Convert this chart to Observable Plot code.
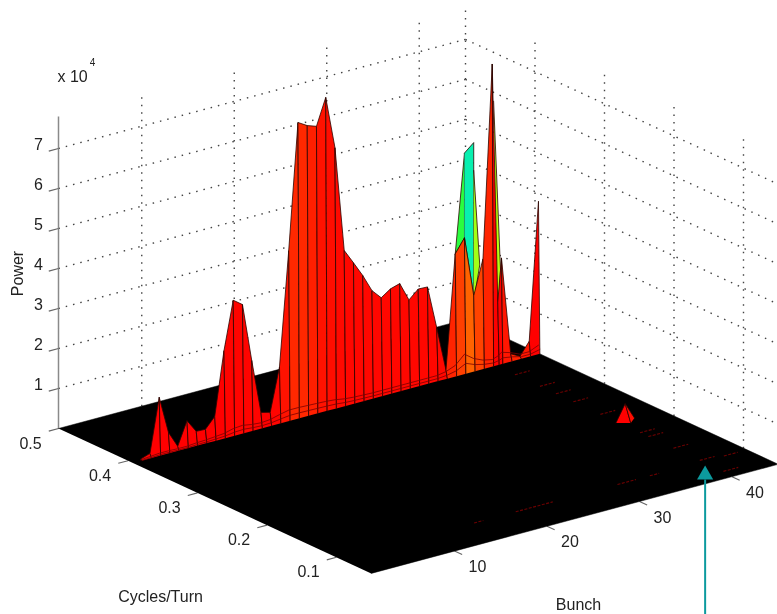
<!DOCTYPE html>
<html>
<head>
<meta charset="utf-8">
<script src="https://cdn.jsdelivr.net/npm/d3@7"></script>
<script src="https://cdn.jsdelivr.net/npm/@observablehq/plot@0.6"></script>
<style>
html,body{margin:0;padding:0;background:#fff}
#chart svg{display:block;filter:blur(0.45px)}
</style>
</head>
<body>
<div id="chart"></div>
<script>
// ---- data ----
// ridge vertices along the bunch axis
const bunches = [2,3,4,5,6,7,8,9,10,11,12,13,14,15,16,17,18,19,20,21,22,23,24,25,26,27,28,29,30,31,32,33,34,35,36,37,38,39,40,40.6,41,42,43,44,45];
// ridge power (x 10^4)
const ridgePower = [0.02,0.1,1.44,0.5,0.09,0.67,0.34,0.33,0.59,2.17,3.37,3.2,1.74,0.38,0.32,1.39,4.24,7.38,7.24,7.16,7.82,6.5,3.87,3.5,3.12,2.68,2.44,2.6,2.67,2.2,2.41,2.4,1.32,0.2,3.04,3.38,1.87,2.73,7.54,1.55,2.63,0.17,0.05,0.36,3.8];
// heat of the strip starting at each vertex (last one unused)
const ridgeHeat = [0,0,0,0,0,0,0,0,0,0.01,0.01,0.01,0.01,0,0.01,0.04,0.09,0.09,0.07,0.04,0.03,0.02,0.015,0.015,0.015,0.015,0.015,0.015,0.015,0.015,0.015,0.015,0.015,0.08,0.14,0.22,0.15,0.08,0,0,0.05,0.08,0.05,0,0];
// small skirt along the ridge base (x 10^4)
const skirtPower = [0,0.02,0.04,0.04,0.03,0.03,0.05,0.06,0.08,0.1,0.16,0.18,0.14,0.12,0.14,0.2,0.25,0.25,0.24,0.23,0.22,0.2,0.16,0.14,0.13,0.12,0.12,0.12,0.12,0.12,0.12,0.12,0.12,0.16,0.25,0.47,0.3,0.2,0.15,0.2,0.27,0.2,0.1,0.1,0.2];
// faces behind the ridge: bunch, power
const greenBunch = [36,37,37,36], greenPower = [3.04,5.5,3.38,3.04];
const cyanBunch  = [37,38,38,37], cyanPower  = [5.5,5.7,1.87,3.38];
const limeBunch  = [38,38.65,38.1,38], limePower = [5.0,2.6,1.85,1.87];
const lime2Bunch = [40.15,40.9,40.68,40.46], lime2Power = [6.6,2.32,1.41,1.85];
// floor streaks
const streakFreqAt41 = [0.365,0.329,0.306,0.281,0.242,0.185,0.173,0.137,0.099,0.065];
const streakRowFreq = 0.095;
const streakRowStart = [15.5,20,31,34.5,42.5];
const streakRowEnd   = [16.5,24,33,35.5,44];
// small bump on the floor
const bumpBunch = 41, bumpFreq = 0.217, bumpPower = 0.42;
// axes
const bunchTicks = [10,20,30,40];
const freqTicks = [0.1,0.2,0.3,0.4,0.5];
const powerTicks = [1,2,3,4,5,6,7];
const bunchMin = 1, bunchMax = 45, freqMin = 0.05, freqMax = 0.5, powerMax = 7.8;
const ridgeFront = 0.393, ridgeTop = 0.395;
// annotation arrow
const arrowBunch = 39.8, arrowFreq = 0.086, arrowFoot = -3.8;

// ---- oblique projection of (bunch, frequency, power) onto the page ----
const W = 777, H = 614;
const X = (b, f) => 58 + (b - 1) * 9.25 + (0.5 - f) * 695;
const Y = (b, f, z = 0) => 428 - (b - 1) * 2.48 + (0.5 - f) * 322 - z * 40;
const px = d => X(d.b, d.f);
const py = d => Y(d.b, d.f, d.z);
const pt = (b, f, z = 0) => ({b, f, z});

// faces (polygons), painted back to front
const faces = [];
let faceId = 0;
const addFace = (pts, heat) => { const id = faceId++; pts.forEach(p => faces.push({...p, id, heat})); };
const backFace = (bs, ps, heat) => addFace(bs.map((b, i) => pt(b, ridgeTop, ps[i])), heat);

backFace(greenBunch, greenPower, 0.78);
backFace(cyanBunch, cyanPower, 1);
backFace(limeBunch, limePower, 0.55);
backFace(lime2Bunch, lime2Power, 0.52);
bunches.slice(0, -1).forEach((b, i) => {
  const c = bunches[i + 1];
  addFace([pt(b, ridgeFront), pt(b, ridgeTop, ridgePower[i]), pt(c, ridgeTop, ridgePower[i + 1]), pt(c, ridgeFront)], ridgeHeat[i]);
});
addFace([pt(bumpBunch - 1, bumpFreq), pt(bumpBunch, bumpFreq, bumpPower), pt(bumpBunch, bumpFreq - 0.008)], 0);
addFace([pt(bumpBunch + 1, bumpFreq), pt(bumpBunch, bumpFreq, bumpPower), pt(bumpBunch, bumpFreq - 0.008)], 0.03);

const floor = [pt(bunchMin, freqMax), pt(bunchMax, freqMax), pt(bunchMax, freqMin), pt(bunchMin, freqMin)];
const skirt = bunches.map((b, i) => pt(b, ridgeTop, skirtPower[i]));
const skirt2 = bunches.map((b, i) => pt(b, ridgeFront, skirtPower[i] * 0.55));

const seg = (a, c) => ({x1: px(a), y1: py(a), x2: px(c), y2: py(c)});
const wallGrid = [
  ...powerTicks.map(z => seg(pt(bunchMin, freqMax, z), pt(bunchMax, freqMax, z))),
  ...powerTicks.map(z => seg(pt(bunchMax, freqMax, z), pt(bunchMax, freqMin, z))),
  ...bunchTicks.map(b => seg(pt(b, freqMax), pt(b, freqMax, powerMax))),
  seg(pt(bunchMax, freqMax), pt(bunchMax, freqMax, powerMax)),
  ...freqTicks.slice(0, 4).map(f => seg(pt(bunchMax, f), pt(bunchMax, f, powerMax)))
];
const streaks = [
  ...streakFreqAt41.map(f => seg(pt(40.2, f), pt(41.8, f))),
  ...streakRowStart.map((s, i) => seg(pt(s, streakRowFreq), pt(streakRowEnd[i], streakRowFreq)))
];
const ticks = [
  ...powerTicks.map(z => seg(pt(bunchMin, freqMax, z), pt(bunchMin - 1.05, freqMax, z))),
  ...freqTicks.map(f => seg(pt(bunchMin, f), pt(bunchMin - 1.05, f))),
  ...bunchTicks.map(b => seg(pt(b, freqMin), pt(b, freqMin - 0.011)))
];
const labels = [
  ...powerTicks.map(z => ({t: String(z), x: 38, y: Y(bunchMin, freqMax, z) - 4})),
  ...freqTicks.map(f => ({t: f.toFixed(1), x: X(bunchMin, f) - 28, y: Y(bunchMin, f) + 15})),
  ...bunchTicks.map(b => ({t: String(b), x: X(b, freqMin) + 23, y: Y(b, freqMin) + 16}))
];
const textColor = "#222", font = "Liberation Sans, Arial, sans-serif", fs = 16;

const plot = Plot.plot({
  width: W, height: H,
  margin: 0,
  x: {domain: [0, W], range: [0, W], axis: null},
  y: {domain: [0, H], range: [0, H], axis: null},
  color: {type: "linear", domain: [0, 0.25, 0.5, 0.75, 1], range: ["#ff0000", "#ff7000", "#c0ff10", "#30ff30", "#08f0b0"], interpolate: "rgb"},
  style: {background: "#fff", fontFamily: font},
  marks: [
    Plot.link(wallGrid, {x1: "x1", y1: "y1", x2: "x2", y2: "y2", stroke: "#444", strokeWidth: 1.4, strokeDasharray: "1.5 6"}),
    Plot.link([seg(pt(bunchMin, freqMax), pt(bunchMin, freqMax, powerMax))], {x1: "x1", y1: "y1", x2: "x2", y2: "y2", stroke: "#8a8a8a", strokeWidth: 1.5}),
    Plot.link(ticks, {x1: "x1", y1: "y1", x2: "x2", y2: "y2", stroke: "#666", strokeWidth: 1.1}),
    Plot.line(floor, {x: px, y: py, fill: "#000", stroke: "#000", strokeWidth: 0.5}),
    Plot.link(streaks, {x1: "x1", y1: "y1", x2: "x2", y2: "y2", stroke: "#6a0000", strokeWidth: 1.1, strokeDasharray: "3 1.5"}),
    Plot.line(faces, {x: px, y: py, z: "id", fill: "heat", stroke: "#2a0500", strokeWidth: 0.8, strokeLinejoin: "round"}),
    Plot.line(skirt, {x: px, y: py, stroke: "#7a0000", strokeWidth: 0.8}),
    Plot.line(skirt2, {x: px, y: py, stroke: "#7a0000", strokeWidth: 0.8}),
    Plot.text(labels, {x: "x", y: "y", text: "t", fontSize: fs, fill: textColor}),
    Plot.text(["x 10"], {x: 57, y: 76, textAnchor: "start", fontSize: fs, fill: textColor}),
    Plot.text(["4"], {x: 92, y: 62, fontSize: 10, fill: textColor}),
    Plot.text(["Power"], {x: 17, y: 273, rotate: -90, fontSize: fs, fill: textColor}),
    Plot.text(["Cycles/Turn"], {x: 160, y: 596, fontSize: fs, fill: textColor}),
    Plot.text(["Bunch"], {x: 578, y: 604, fontSize: fs, fill: textColor}),
    Plot.link([0], {
      x1: () => X(arrowBunch, arrowFreq), y1: () => Y(arrowBunch, arrowFreq, arrowFoot),
      x2: () => X(arrowBunch, arrowFreq), y2: () => Y(arrowBunch, arrowFreq, -0.35),
      stroke: "#0c9a9e", strokeWidth: 2
    }),
    Plot.dot([0], {
      x: () => X(arrowBunch, arrowFreq), y: () => Y(arrowBunch, arrowFreq, -0.23),
      symbol: "triangle", r: 6, fill: "#0c9a9e", stroke: "none"
    })
  ]
});
document.getElementById("chart").appendChild(plot);
</script>
</body>
</html>
